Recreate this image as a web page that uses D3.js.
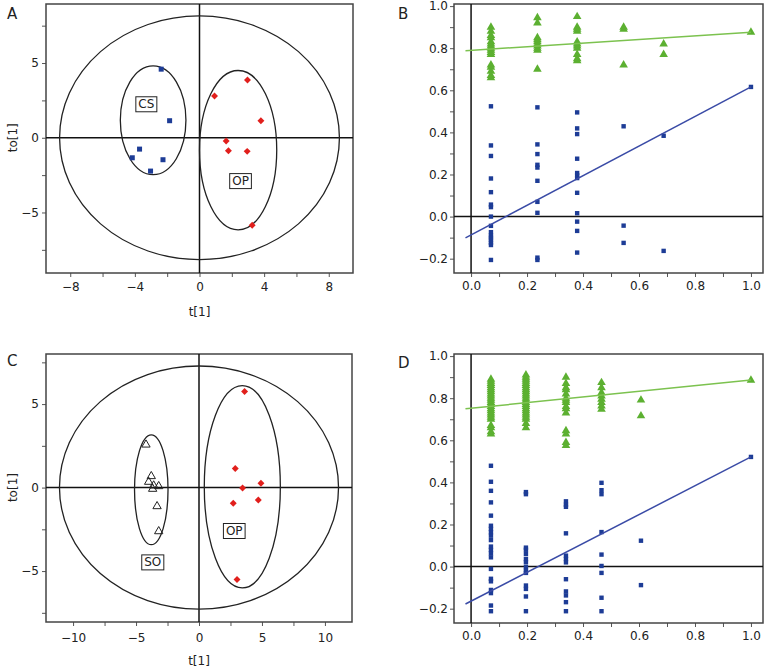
<!DOCTYPE html>
<html><head><meta charset="utf-8">
<script src="https://cdn.jsdelivr.net/npm/d3@7"></script>
<style>body{margin:0;background:#fff}svg{display:block}text{font-family:"DejaVu Sans",sans-serif;fill:#222}</style>
</head><body><svg id="c" width="769" height="672"></svg>
<script>
// ---------- Data ----------
// Panel A: OPLS-DA scores (t[1], to[1])
const aCS = [[-2.37,4.59],[-1.85,1.14],[-3.71,-0.76],[-4.16,-1.34],[-2.26,-1.47],[-3.03,-2.23]];
const aOP = [[0.93,2.79],[2.97,3.86],[3.80,1.14],[1.65,-0.22],[1.79,-0.87],[2.95,-0.91],[3.26,-5.86]];
const aEllipses = [[0,0,8.66,8.15],[-2.87,1.17,2.03,3.64],[2.39,-0.83,2.39,5.33]]; // cx, cy, rx, ry
const aLabels = [["CS",-3.29,2.24],["OP",2.54,-2.9]];
const aXTicks = [-8,-6,-4,-2,0,2,4,6,8];
const aXLabels = [-8,-4,0,4,8];
const aYTicks = [-7.5,-5,-2.5,0,2.5,5,7.5];
const aYLabels = [-5,0,5];

// Panel C
const cSO = [[-4.21,2.57],[-3.79,0.68],[-4.0,0.34],[-3.6,0.12],[-3.68,-0.08],[-3.2,0.08],[-3.33,-1.12],[-3.2,-2.62]];
const cOP = [[3.62,5.75],[2.88,1.14],[3.46,-0.02],[4.92,0.26],[2.72,-0.94],[4.71,-0.74],[3.02,-5.51]];
const cEllipses = [[0,0,11.08,7.28],[-3.79,-0.13,1.33,3.29],[3.44,0.05,3.02,6.06]];
const cLabels = [["SO",-3.67,-4.48],["OP",2.8,-2.6]];
const cXTicks = [-10,-7.5,-5,-2.5,0,2.5,5,7.5,10];
const cXLabels = [-10,-5,0,5,10];
const cYTicks = [-7.5,-5,-2.5,0,2.5,5,7.5];
const cYLabels = [-5,0,5];

// Panel B: permutation test
const bPermX = [0.071,0.237,0.379,0.545,0.688,1.0];
const bR2 = [
  [0.90,0.88,0.86,0.85,0.83,0.82,0.81,0.80,0.79,0.78,0.77,0.72,0.71,0.69,0.67,0.66],
  [0.945,0.92,0.85,0.84,0.83,0.82,0.81,0.80,0.79,0.70],
  [0.95,0.90,0.89,0.88,0.83,0.82,0.81,0.80,0.77,0.75,0.74],
  [0.90,0.89,0.72],
  [0.82,0.77],
  [0.876]];
const bQ2 = [
  [0.524,0.338,0.288,0.181,0.116,0.057,0.045,0,-0.044,-0.074,-0.09,-0.1,-0.111,-0.124,-0.135,-0.206],
  [0.519,0.343,0.297,0.246,0.233,0.17,0.07,0.018,-0.195,-0.206],
  [0.495,0.419,0.392,0.275,0.207,0.196,0.183,0.113,0.016,-0.024,-0.068,-0.171],
  [0.429,-0.043,-0.125],
  [0.384,-0.163],
  [0.616]];
const bR2Line = [0.79,0.876];
const bQ2Line = [-0.087,0.616];

// Panel D
const dPermX = [0.071,0.196,0.339,0.466,0.607,1.0];
const dR2 = [
  [0.89,0.88,0.87,0.86,0.85,0.84,0.83,0.82,0.81,0.80,0.79,0.78,0.77,0.76,0.75,0.74,0.73,0.72,0.71,0.70,0.67,0.66,0.64,0.63],
  [0.91,0.90,0.89,0.88,0.87,0.86,0.85,0.84,0.83,0.82,0.81,0.80,0.79,0.78,0.77,0.76,0.75,0.74,0.73,0.72,0.71,0.70,0.68,0.66],
  [0.90,0.87,0.85,0.84,0.82,0.80,0.79,0.78,0.76,0.75,0.73,0.645,0.63,0.59,0.575],
  [0.874,0.85,0.826,0.81,0.795,0.779,0.763,0.747],
  [0.791,0.716],
  [0.885]];
const dQ2 = [
  [0.479,0.403,0.36,0.305,0.242,0.194,0.179,0.163,0.147,0.126,0.095,0.079,0.063,0.044,-0.011,-0.058,-0.07,-0.111,-0.126,-0.185,-0.212],
  [0.354,0.344,0.09,0.08,0.06,0.036,0.02,-0.003,-0.019,-0.03,-0.09,-0.106,-0.142,-0.212],
  [0.31,0.294,0.284,0.158,0.052,0.036,0.02,-0.06,-0.118,-0.137,-0.169,-0.212],
  [0.398,0.363,0.344,0.164,0.057,0.003,-0.03,-0.148,-0.212],
  [0.123,-0.088],
  [0.521]];
const dR2Line = [0.752,0.886];
const dQ2Line = [-0.164,0.521];

const pXTicks = [0,0.1,0.2,0.3,0.4,0.5,0.6,0.7,0.8,0.9,1.0];
const pXLabels = [0,0.2,0.4,0.6,0.8,1.0];
const pYTicks = [-0.2,-0.1,0,0.1,0.2,0.3,0.4,0.5,0.6,0.7,0.8,0.9,1.0];
const pYLabels = [-0.2,0,0.2,0.4,0.6,0.8,1.0];

// ---------- Drawing ----------
const svg = d3.select("#c");
const BLUE = "#1d3c96", GREEN = "#5cb031", RED = "#e11f1c";

function axes(g, x, y, xt, xl, yt, yl, fmt, xpad, ypad) {
  const [x0,x1] = x.range(), [y0,y1] = y.range();
  const has = (arr, v) => arr.some(a => Math.abs(a - v) < 1e-9);
  const xa = g.append("g").attr("transform",`translate(0,${y0})`)
    .call(d3.axisBottom(x).tickValues(xt).tickSize(4).tickPadding(xpad)
      .tickFormat(v => has(xl,v) ? fmt(v) : ""));
  const ya = g.append("g").attr("transform",`translate(${x0},0)`)
    .call(d3.axisLeft(y).tickValues(yt).tickSize(4).tickPadding(ypad)
      .tickFormat(v => has(yl,v) ? fmt(v) : ""));
  [xa,ya].forEach(a => {
    a.select(".domain").remove();
    a.selectAll("line").attr("stroke","#555");
    a.selectAll("text").attr("font-size",12).attr("font-family","DejaVu Sans").attr("fill","#333");
  });
  g.append("rect").attr("x",x0).attr("y",y1).attr("width",x1-x0).attr("height",y0-y1)
    .attr("fill","none").attr("stroke","#444").attr("stroke-width",1.5);
  g.append("line").attr("x1",x(0)).attr("x2",x(0)).attr("y1",y1).attr("y2",y0)
    .attr("stroke","#111").attr("stroke-width",1.5);
  g.append("line").attr("x1",x0).attr("x2",x1).attr("y1",y(0)).attr("y2",y(0))
    .attr("stroke","#111").attr("stroke-width",1.5);
}

function scorePanel(opts) {
  const g = svg.append("g");
  const x = d3.scaleLinear().domain(opts.xd).range([opts.l, opts.r]);
  const y = d3.scaleLinear().domain(opts.yd).range([opts.b, opts.t]);
  axes(g, x, y, opts.xt, opts.xl, opts.yt, opts.yl, d3.format("d"), opts.xpad, 3);
  g.selectAll("ellipse.e").data(opts.ell).enter().append("ellipse")
    .attr("cx", d => x(d[0])).attr("cy", d => y(d[1]))
    .attr("rx", d => x(d[2]) - x(0)).attr("ry", d => y(0) - y(d[3]))
    .attr("fill","none").attr("stroke","#222").attr("stroke-width",1.3);
  opts.labels.forEach(([t,lx,ly]) => {
    const tx = g.append("text").attr("x",x(lx)).attr("y",y(ly)).attr("text-anchor","middle")
      .attr("dominant-baseline","central").attr("font-size",12).attr("fill","#222").text(t);
    const bb = tx.node().getBBox();
    g.insert("rect", () => tx.node()).attr("x",bb.x-2.5).attr("y",y(ly)-7.5)
      .attr("width",bb.width+5).attr("height",15).attr("fill","#fff")
      .attr("stroke","#222").attr("stroke-width",1);
  });
  opts.marks(g, x, y);
  g.append("text").attr("x",(opts.l+opts.r)/2).attr("y",opts.b+43).attr("text-anchor","middle")
    .attr("font-size",12).attr("fill","#333").text("t[1]");
  g.append("text").attr("transform",`translate(17,${y(0)}) rotate(-90)`).attr("text-anchor","middle")
    .attr("font-size",12).attr("fill","#333").text("to[1]");
}

const sq = (g, pts, x, y, s) => g.append("g").selectAll("rect").data(pts).enter().append("rect")
  .attr("x", d => x(d[0]) - s/2).attr("y", d => y(d[1]) - s/2).attr("width", s).attr("height", s).attr("fill", BLUE);
const dia = (g, pts, x, y) => g.append("g").selectAll("path").data(pts).enter().append("path")
  .attr("d", d3.symbol(d3.symbolSquare, 24)).attr("transform", d => `translate(${x(d[0])},${y(d[1])}) rotate(45)`).attr("fill", RED);

scorePanel({l:46,r:353,t:4,b:273,xd:[-9.5,9.5],yd:[-9.05,8.95],xt:aXTicks,xl:aXLabels,yt:aYTicks,yl:aYLabels,xpad:5,
  ell:aEllipses, labels:aLabels,
  marks:(g,x,y)=>{ sq(g,aCS,x,y,5); dia(g,aOP,x,y); }});

scorePanel({l:46,r:352,t:354,b:622,xd:[-12.15,12.15],yd:[-8.05,8.0],xt:cXTicks,xl:cXLabels,yt:cYTicks,yl:cYLabels,xpad:7,
  ell:cEllipses, labels:cLabels,
  marks:(g,x,y)=>{
    g.append("g").selectAll("path").data(cSO).enter().append("path")
      .attr("d", d3.symbol(d3.symbolTriangle, 30)).attr("transform", d => `translate(${x(d[0])},${y(d[1])})`)
      .attr("fill","none").attr("stroke","#222").attr("stroke-width",1);
    dia(g,cOP,x,y); }});

function permPanel(opts) {
  const g = svg.append("g");
  const x = d3.scaleLinear().domain([-0.061,1.043]).range([opts.l, opts.r]);
  const y = d3.scaleLinear().domain([-0.268,1.01]).range([opts.b, opts.t]);
  axes(g, x, y, pXTicks, pXLabels, pYTicks, pYLabels, d3.format(".1f"), 4, 2);
  const r2pts = opts.px.flatMap((px,i) => opts.r2[i].map(v => [px,v]));
  const q2pts = opts.px.flatMap((px,i) => opts.q2[i].map(v => [px,v]));
  g.append("g").selectAll("path").data(r2pts).enter().append("path")
    .attr("d", d3.symbol(d3.symbolTriangle, 32)).attr("transform", d => `translate(${x(d[0])},${y(d[1])})`)
    .attr("fill", GREEN);
  g.append("g").selectAll("rect").data(q2pts).enter().append("rect")
    .attr("x", d => x(d[0]) - 2.2).attr("y", d => y(d[1]) - 2.2).attr("width", 4.4).attr("height", 4.4).attr("fill", BLUE);
  const line = d3.line().x(d => x(d[0])).y(d => y(d[1]));
  const ext = (l) => { const s = l[1]-l[0]; return [[-0.02, l[0]-0.02*s],[1, l[1]]]; };
  g.append("path").attr("d", line(ext(opts.r2l))).attr("stroke","#7cc24f").attr("stroke-width",1.5).attr("fill","none");
  g.append("path").attr("d", line(ext(opts.q2l))).attr("stroke","#3a4ba6").attr("stroke-width",1.5).attr("fill","none");
}

permPanel({l:454,r:763,t:4,b:273,px:bPermX,r2:bR2,q2:bQ2,r2l:bR2Line,q2l:bQ2Line});
permPanel({l:454,r:763,t:354,b:623,px:dPermX,r2:dR2,q2:dQ2,r2l:dR2Line,q2l:dQ2Line});

// Panel letters
[["A",7,19],["B",398,19],["C",7,366],["D",398,368]].forEach(([t,px,py]) =>
  svg.append("text").attr("x",px).attr("y",py).attr("font-size",15).attr("font-family","Liberation Sans")
    .attr("fill","#222").text(t));
</script></body></html>
